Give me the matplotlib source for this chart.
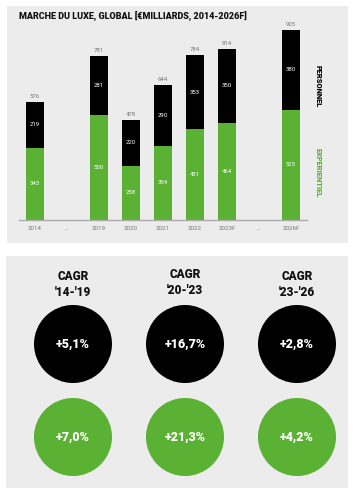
import matplotlib
matplotlib.use("Agg")
import matplotlib.pyplot as plt
import matplotlib.patches as mpatches
import numpy as np

plt.rcParams['font.family'] = ['Roboto', 'DejaVu Sans']

# data
years = ['2014', '...', '2019', '2020', '2021', '2022', '2023F', '...', '2026F']
experientiel = [343, None, 500, 258, 354, 431, 464, None, 525]
personnel = [219, None, 281, 220, 290, 353, 350, None, 380]
totals = [576, None, 781, 478, 644, 784, 814, None, 905]

cagr_periods = ["'14-'19", "'20-'23", "'23-'26"]
cagr_personnel = ['+5,1%', '+16,7%', '+2,8%']
cagr_experientiel = ['+7,0%', '+21,3%', '+4,2%']

GREEN = '#5bb133'
GREY_BG = '#ececed'
W, H = 355, 493

fig = plt.figure(figsize=(W / 100, H / 100), dpi=100)
fig.patch.set_facecolor('white')

# background axes in pixel coords
bg = fig.add_axes([0, 0, 1, 1], zorder=0)
bg.set_xlim(0, W)
bg.set_ylim(H, 0)
bg.axis('off')
bg.add_patch(mpatches.Rectangle((7, 6), 341, 237, color=GREY_BG, lw=0))
bg.add_patch(mpatches.Rectangle((6, 256), 342, 232, color=GREY_BG, lw=0))

bg.text(19, 16, 'MARCHE DU LUXE, GLOBAL [€MILLIARDS, 2014-2026F]',
        fontsize=6.5, fontweight='heavy', va='center', ha='left', color='#111')

# bar chart
ax = fig.add_axes([19 / W, (H - 220) / H, 288 / W, 200 / H], zorder=1)
ax.patch.set_alpha(0)
x = np.arange(len(years))
idx = [i for i, v in enumerate(experientiel) if v is not None]
exp_v = np.array([experientiel[i] for i in idx])
per_v = np.array([personnel[i] for i in idx])
ax.bar(idx, exp_v, width=0.56, color=GREEN)
ax.bar(idx, per_v, width=0.56, bottom=exp_v, color='black')
for j, i in enumerate(idx):
    ax.text(i, exp_v[j] / 2, str(exp_v[j]), ha='center', va='center',
            fontsize=4.3, color='white')
    ax.text(i, exp_v[j] + per_v[j] / 2, str(per_v[j]), ha='center', va='center',
            fontsize=4.3, color='white')
    ax.text(i, exp_v[j] + per_v[j] + 14, str(totals[i]), ha='center', va='bottom',
            fontsize=4.3, color='#777')
ax.set_xlim(-0.5, 8.5)
ax.set_ylim(0, 952)
ax.set_xticks(x)
ax.set_xticklabels(years)
ax.tick_params(axis='x', length=0, labelsize=4.5, labelcolor='#777', pad=4)
ax.set_yticks([])
for s in ['top', 'left', 'right']:
    ax.spines[s].set_visible(False)
ax.spines['bottom'].set_color('#aaa')
ax.spines['bottom'].set_linewidth(1)

bg.text(318, 86, 'PERSONNEL', rotation=-90, fontsize=5.4, fontweight='heavy',
        ha='center', va='center', color='black')
bg.text(318, 173, 'EXPERIENTIEL', rotation=-90, fontsize=5.4, fontweight='heavy',
        ha='center', va='center', color=GREEN)

# CAGR circles
for i, period in enumerate(cagr_periods):
    cx = 73 + i * 112
    dy = -2 if i == 1 else 0
    bg.text(cx, 277 + dy, 'CAGR', fontsize=8.5, fontweight='heavy',
            ha='center', va='center', color='#111')
    bg.text(cx, 293 + dy, period, fontsize=8.5, fontweight='heavy',
            ha='center', va='center', color='#111')
    bg.add_patch(mpatches.Circle((cx, 344), 39, color='black', lw=0))
    bg.text(cx, 344, cagr_personnel[i], fontsize=9, fontweight='heavy',
            ha='center', va='center', color='white')
    bg.add_patch(mpatches.Circle((cx, 437), 39, color=GREEN, lw=0))
    bg.text(cx, 437, cagr_experientiel[i], fontsize=9, fontweight='heavy',
            ha='center', va='center', color='white')

fig.savefig('out.png', dpi=100, facecolor='white')
